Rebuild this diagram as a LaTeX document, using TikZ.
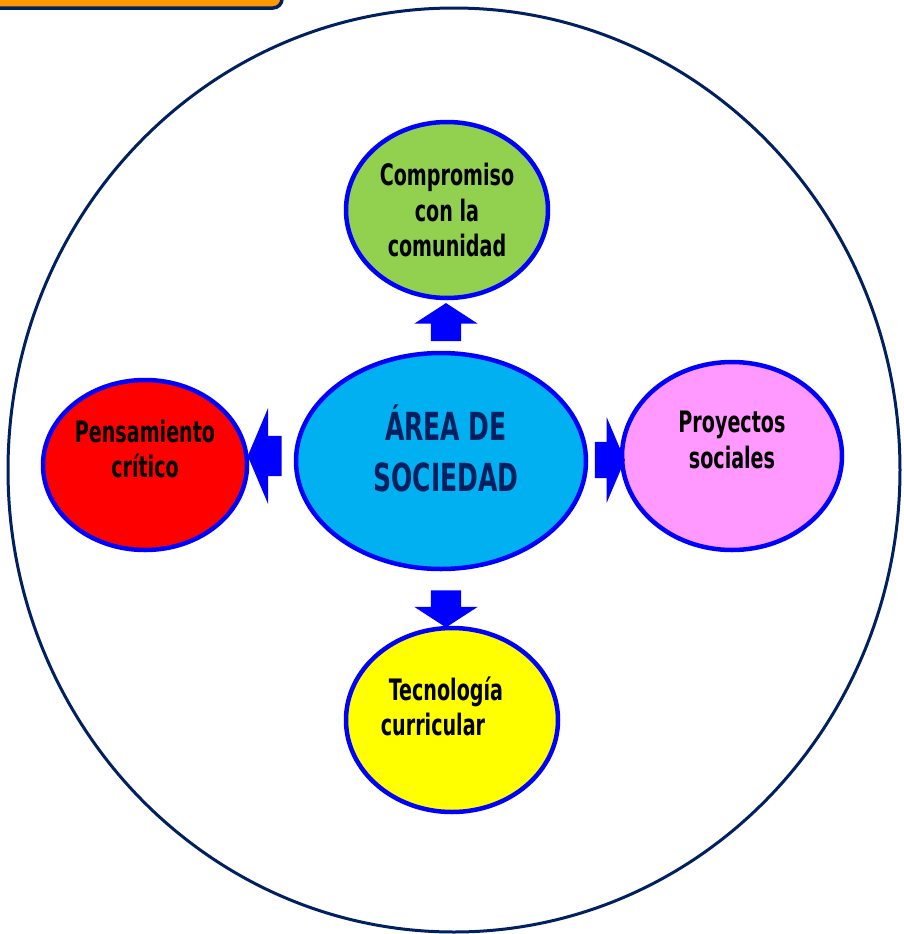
\documentclass[tikz,border=0pt]{standalone}
\usepackage{fontspec}
\setmainfont{DejaVu Sans Condensed}[FakeStretch=0.72]
\usepackage{tikz}
\usetikzlibrary{shapes, shapes.geometric, shapes.arrows, positioning, calc}
\definecolor{AzulOscuro}{RGB}{0,32,96}
\definecolor{Azul}{RGB}{0,0,255}
\definecolor{Verde}{RGB}{146,208,80}
\definecolor{Celeste}{RGB}{0,176,240}
\definecolor{Rojo}{RGB}{255,0,0}
\definecolor{Rosa}{RGB}{255,153,255}
\definecolor{Amarillo}{RGB}{255,255,0}
\definecolor{Naranja}{RGB}{255,153,0}

\tikzset{
    burbuja/.style={shape=ellipse, draw=Azul, line width=0.45mm, inner sep=0pt},
    rotulo/.style={align=center, font=\bfseries\fontsize{8.4}{10}\selectfont, text=black},
    flecha/.style={shape=single arrow, fill=Azul, draw=none, inner xsep=0pt},
}

\begin{document}
\begin{tikzpicture}[x=0.1mm, y=-0.1mm]
    \useasboundingbox (0,0) rectangle (904,934);
    \clip (0,0) rectangle (904,934);
    % recuadro superior (cortado)
    \draw[AzulOscuro, line width=0.35mm, fill=Naranja, rounded corners=0.9mm] (-20,-40) rectangle (282,8);
    % circulo exterior
    \draw[AzulOscuro, line width=0.3mm] (454,470) ellipse [x radius=446, y radius=462];

    \node[burbuja, fill=Celeste, minimum width=29mm, minimum height=21.6mm] (soc) at (441,461) {};
    \node[burbuja, fill=Verde, minimum width=20.2mm, minimum height=17.6mm] (com) at (447,210) {};
    \node[burbuja, fill=Rojo, minimum width=20.4mm, minimum height=17mm] (pen) at (145,465) {};
    \node[burbuja, fill=Rosa, minimum width=22mm, minimum height=18.8mm] (pro) at (732,456) {};
    \node[burbuja, fill=Amarillo, minimum width=21.2mm, minimum height=18.4mm] (tec) at (452,720) {};

    \node[align=center, text=AzulOscuro, font=\bfseries\fontsize{11}{14.5}\selectfont]
        (socT) at ([xshift=0.5mm, yshift=1.3mm]soc.center) {ÁREA DE\\SOCIEDAD};
    \node[rotulo] (comT) at ([yshift=0mm]com.center) {Compromiso\\con la\\comunidad};
    \node[rotulo] (penT) at ([yshift=1.6mm]pen.center) {Pensamiento\\crítico};
    \node[rotulo] (proT) at ([yshift=1.6mm]pro.center) {Proyectos\\sociales};
    \node[rotulo] (tecT) at ([xshift=-0.6mm, yshift=1.4mm]tec.center) {Tecnología\\curricular\hspace*{2.6mm}};

    % flechas de bloque
    \node[flecha, rotate=90, minimum height=3.8mm, inner ysep=1.45mm,
          single arrow head extend=1.65mm, single arrow tip angle=114] (fArriba) at (446,327) {};
    \node[flecha, rotate=-90, minimum height=3.7mm, inner ysep=1.45mm,
          single arrow head extend=1.65mm, single arrow tip angle=114] (fAbajo) at (446,604) {};
    \node[flecha, rotate=180, minimum height=3.4mm, inner ysep=1.95mm,
          single arrow head extend=2.8mm, single arrow tip angle=134] (fIzq) at (269,456) {};
    \node[flecha, minimum height=3.0mm, inner ysep=1.75mm,
          single arrow head extend=2.5mm, single arrow tip angle=134] (fDer) at (606,460) {};
\end{tikzpicture}
\end{document}
